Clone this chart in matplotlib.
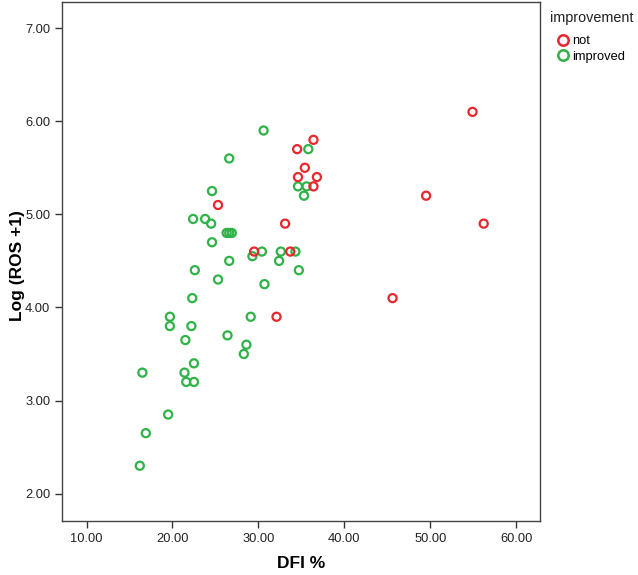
import matplotlib
matplotlib.use("Agg")
import matplotlib.pyplot as plt
from matplotlib.lines import Line2D

plt.rcParams['font.family'] = ['Liberation Sans', 'DejaVu Sans']

# Data: DFI % vs Log(ROS+1), grouped by improvement
not_dfi = [54.9, 49.5, 56.2, 45.6, 36.4, 34.5, 35.4, 34.6, 36.8, 36.4, 25.3, 33.1, 29.5, 33.7, 32.1]
not_ros = [6.10, 5.20, 4.90, 4.10, 5.80, 5.70, 5.50, 5.40, 5.40, 5.30, 5.10, 4.90, 4.60, 4.60, 3.90]

imp_dfi = [30.6, 35.8, 26.6, 34.6, 35.6, 35.3, 24.6, 22.4, 23.8, 24.5, 26.3, 26.6, 26.9,
           24.6, 30.4, 29.3, 32.6, 34.3, 32.4, 26.6, 22.6, 34.7, 25.3, 30.7, 22.3,
           19.7, 19.7, 22.2, 29.1, 21.5, 26.4, 28.6, 28.3, 22.5, 16.5, 21.4, 21.6,
           22.5, 19.5, 16.9, 16.2]
imp_ros = [5.90, 5.70, 5.60, 5.30, 5.30, 5.20, 5.25, 4.95, 4.95, 4.90, 4.80, 4.80, 4.80,
           4.70, 4.60, 4.55, 4.60, 4.60, 4.50, 4.50, 4.40, 4.40, 4.30, 4.25, 4.10,
           3.90, 3.80, 3.80, 3.90, 3.65, 3.70, 3.60, 3.50, 3.40, 3.30, 3.30, 3.20,
           3.20, 2.85, 2.65, 2.30]

x_ticks = [10, 20, 30, 40, 50, 60]
y_ticks = [2, 3, 4, 5, 6, 7]

red = '#e8272f'
green = '#2fb248'

fig = plt.figure(figsize=(6.38, 5.75), dpi=100)
ax = fig.add_axes([62/638, 1 - 520.7/575, (540-62)/638, (520.7-2)/575])

ax.scatter(imp_dfi, imp_ros, s=34, facecolors='none', edgecolors=green, linewidths=1.6, zorder=3)
ax.scatter(not_dfi, not_ros, s=34, facecolors='none', edgecolors=red, linewidths=1.6, zorder=3)

ax.set_xlim(7.15, 62.75)
ax.set_ylim(1.71, 7.28)
ax.set_xticks(x_ticks)
ax.set_yticks(y_ticks)
ax.set_xticklabels([f"{v:.2f}" for v in x_ticks])
ax.set_yticklabels([f"{v:.2f}" for v in y_ticks])
ax.tick_params(direction='out', length=5, width=1, colors='#333333', labelsize=9.3, labelcolor='#222222')
for sp in ax.spines.values():
    sp.set_color('#444444')
    sp.set_linewidth(1.0)

fig.text(301/638, 1 - 563/575, 'DFI %', fontsize=12.5, fontweight='bold', ha='center', va='center')
fig.text(18/638, 1 - 266/575, 'Log (ROS +1)', fontsize=12.5, fontweight='bold', ha='center', va='center',
         rotation=90)

# legend
fig.text(550/638, 1 - 18/575, 'improvement', fontsize=10.4, ha='left', va='center', color='#222222')
handles = [Line2D([], [], marker='o', linestyle='none', markersize=7.5, markerfacecolor='none',
                  markeredgecolor=red, markeredgewidth=1.8),
           Line2D([], [], marker='o', linestyle='none', markersize=7.5, markerfacecolor='none',
                  markeredgecolor=green, markeredgewidth=1.8)]
fig.legend(handles, ['not', 'improved'], loc='upper left', bbox_to_anchor=(558/638, 1 - 35/575),
           frameon=False, fontsize=9.3, handlelength=0.8, handletextpad=0.3, labelspacing=0.3,
           borderpad=0, borderaxespad=0)

fig.savefig('out.png', dpi=100)
